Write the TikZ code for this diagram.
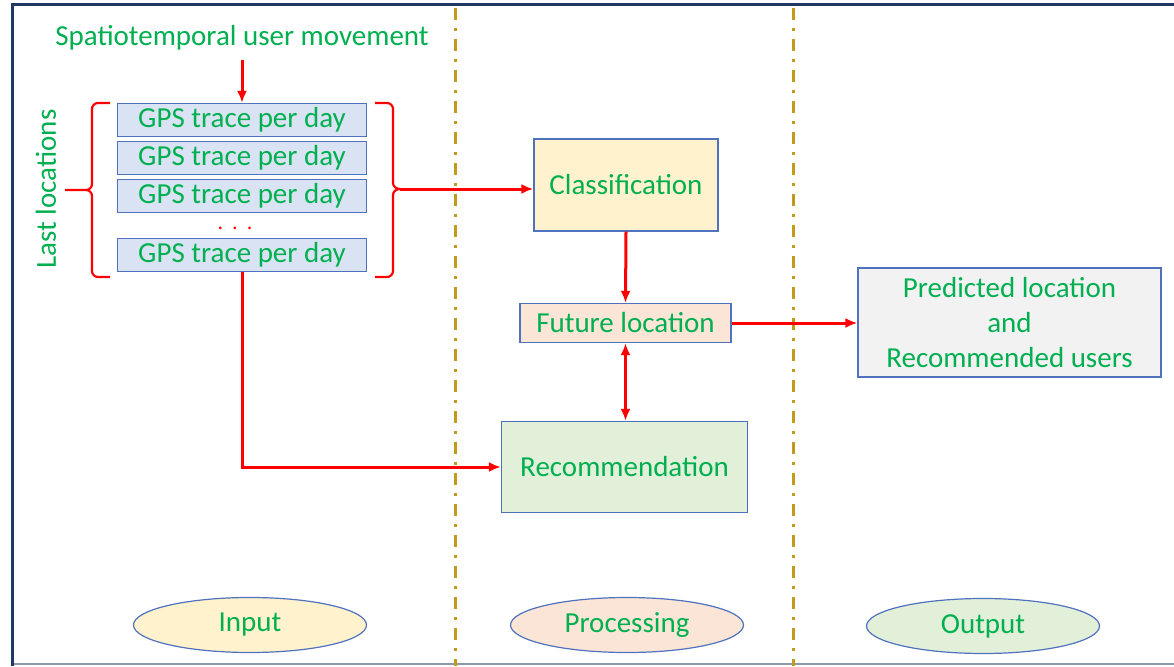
\documentclass[tikz,border=0pt]{standalone}
\usepackage{fontspec}
\setmainfont{Carlito}
\usepackage{tikz}
\usetikzlibrary{scopes,arrows.meta,shapes.geometric}
\definecolor{txtgreen}{HTML}{00B050}
\definecolor{edgeblue}{HTML}{4F71BE}
\definecolor{gpsfill}{HTML}{DAE3F3}
\definecolor{clsfill}{HTML}{FFF2CC}
\definecolor{futfill}{HTML}{FBE5D6}
\definecolor{recfill}{HTML}{E2F0D9}
\definecolor{predfill}{HTML}{F2F2F2}
\definecolor{sepgold}{HTML}{C49A1C}
\definecolor{framenavy}{HTML}{203864}
\definecolor{framegrey}{HTML}{8A97AE}

\begin{document}
\begin{tikzpicture}[
    x=1pt,y=-1pt,
    >={Latex[length=12pt,width=10pt]},
    flow/.style={draw=red,line width=3pt},
    lbl/.style={text=txtgreen,font=\fontsize{29}{35}\selectfont,inner sep=0pt},
    blk/.style={lbl,rectangle,draw=edgeblue,line width=1.2pt,align=center},
    gps/.style={blk,fill=gpsfill,minimum width=249pt,minimum height=33pt},
    phase/.style={lbl,ellipse,draw=edgeblue,line width=1.2pt,minimum width=233pt,minimum height=55pt},
    sep/.style={draw=sepgold,line width=3pt,dash pattern=on 12pt off 8pt on 3pt off 8pt},
]
    \useasboundingbox (0,0) rectangle (1174,666);
    \fill[white] (0,0) rectangle (1174,666);

    % frame
    \draw[framegrey,line width=1.6pt] (12,664) -- (1174,664);
    \draw[framenavy,line width=3pt] (12,666) -- (12,5) -- (1174,5);

    % phase separators
    \draw[sep] (455,8) -- (455,666);
    \draw[sep] (793,8) -- (793,666);

    % input side
    \node[lbl] (mov) at (242,38) {Spatiotemporal user movement};
    \node[gps] (g1) at (242,120) {GPS trace per day};
    \node[gps] (g2) at (242,158) {GPS trace per day};
    \node[gps] (g3) at (242,196) {GPS trace per day};
    \node[lbl,text=red,font=\fontsize{22}{22}\selectfont] (dots) at (235,228) {.\hspace{9pt}.\hspace{9pt}.};
    \node[gps] (g5) at (242,255) {GPS trace per day};
    \node[lbl,rotate=90] (last) at (46,189) {Last locations};

    % processing side
    \node[blk,fill=clsfill,minimum width=184pt,minimum height=92pt] (cls) at (626,185) {Classification};
    \node[blk,fill=futfill,minimum width=211pt,minimum height=39pt] (fut) at (625.5,323) {Future location};
    \node[blk,fill=recfill,minimum width=246pt,minimum height=91pt] (rec) at (624.5,467) {Recommendation};

    % output side
    \node[blk,fill=predfill,minimum width=303pt,minimum height=109pt] (pred) at (1009.5,322.5)
        {Predicted location\\and\\Recommended users};

    % phase labels
    \node[phase,fill=clsfill] (inp) at (250,625) {Input};
    \node[phase,fill=futfill] (proc) at (627,625) {Processing};
    \node[phase,fill=recfill] (outp) at (983,626) {Output};

    % braces
    \coordinate (lb) at (65,190);
    \coordinate (rb) at (400,189);
    {[draw=red,line width=2.2pt]
        \draw (110,103) -- (98,103) to[out=180,in=90] (92,109) -- (92,184)
            to[out=-90,in=0] (86,190) -- (lb);
        \draw (110,277) -- (98,277) to[out=180,in=-90] (92,271) -- (92,196)
            to[out=90,in=0] (86,190);
        \draw (375,103) -- (387,103) to[out=0,in=90] (393,109) -- (393,183)
            to[out=-90,in=180] (rb);
        \draw (375,277) -- (387,277) to[out=0,in=-90] (393,271) -- (393,195)
            to[out=90,in=180] (rb);
    }

    % connectors
    \coordinate (movend) at (242,60);
    {[flow,->]
        \draw (movend) -- (g1.north);
        \draw (rb) -- (rb -| cls.west);
        \draw (cls.south) -- (fut.north);
        \draw (fut.east) -- (fut.east -| pred.west);
        \draw (g5.south) |- (rec.west);
    }
    {[flow,<->]
        \draw (fut.south) -- (fut.south |- rec.north);
    }
\end{tikzpicture}
\end{document}
